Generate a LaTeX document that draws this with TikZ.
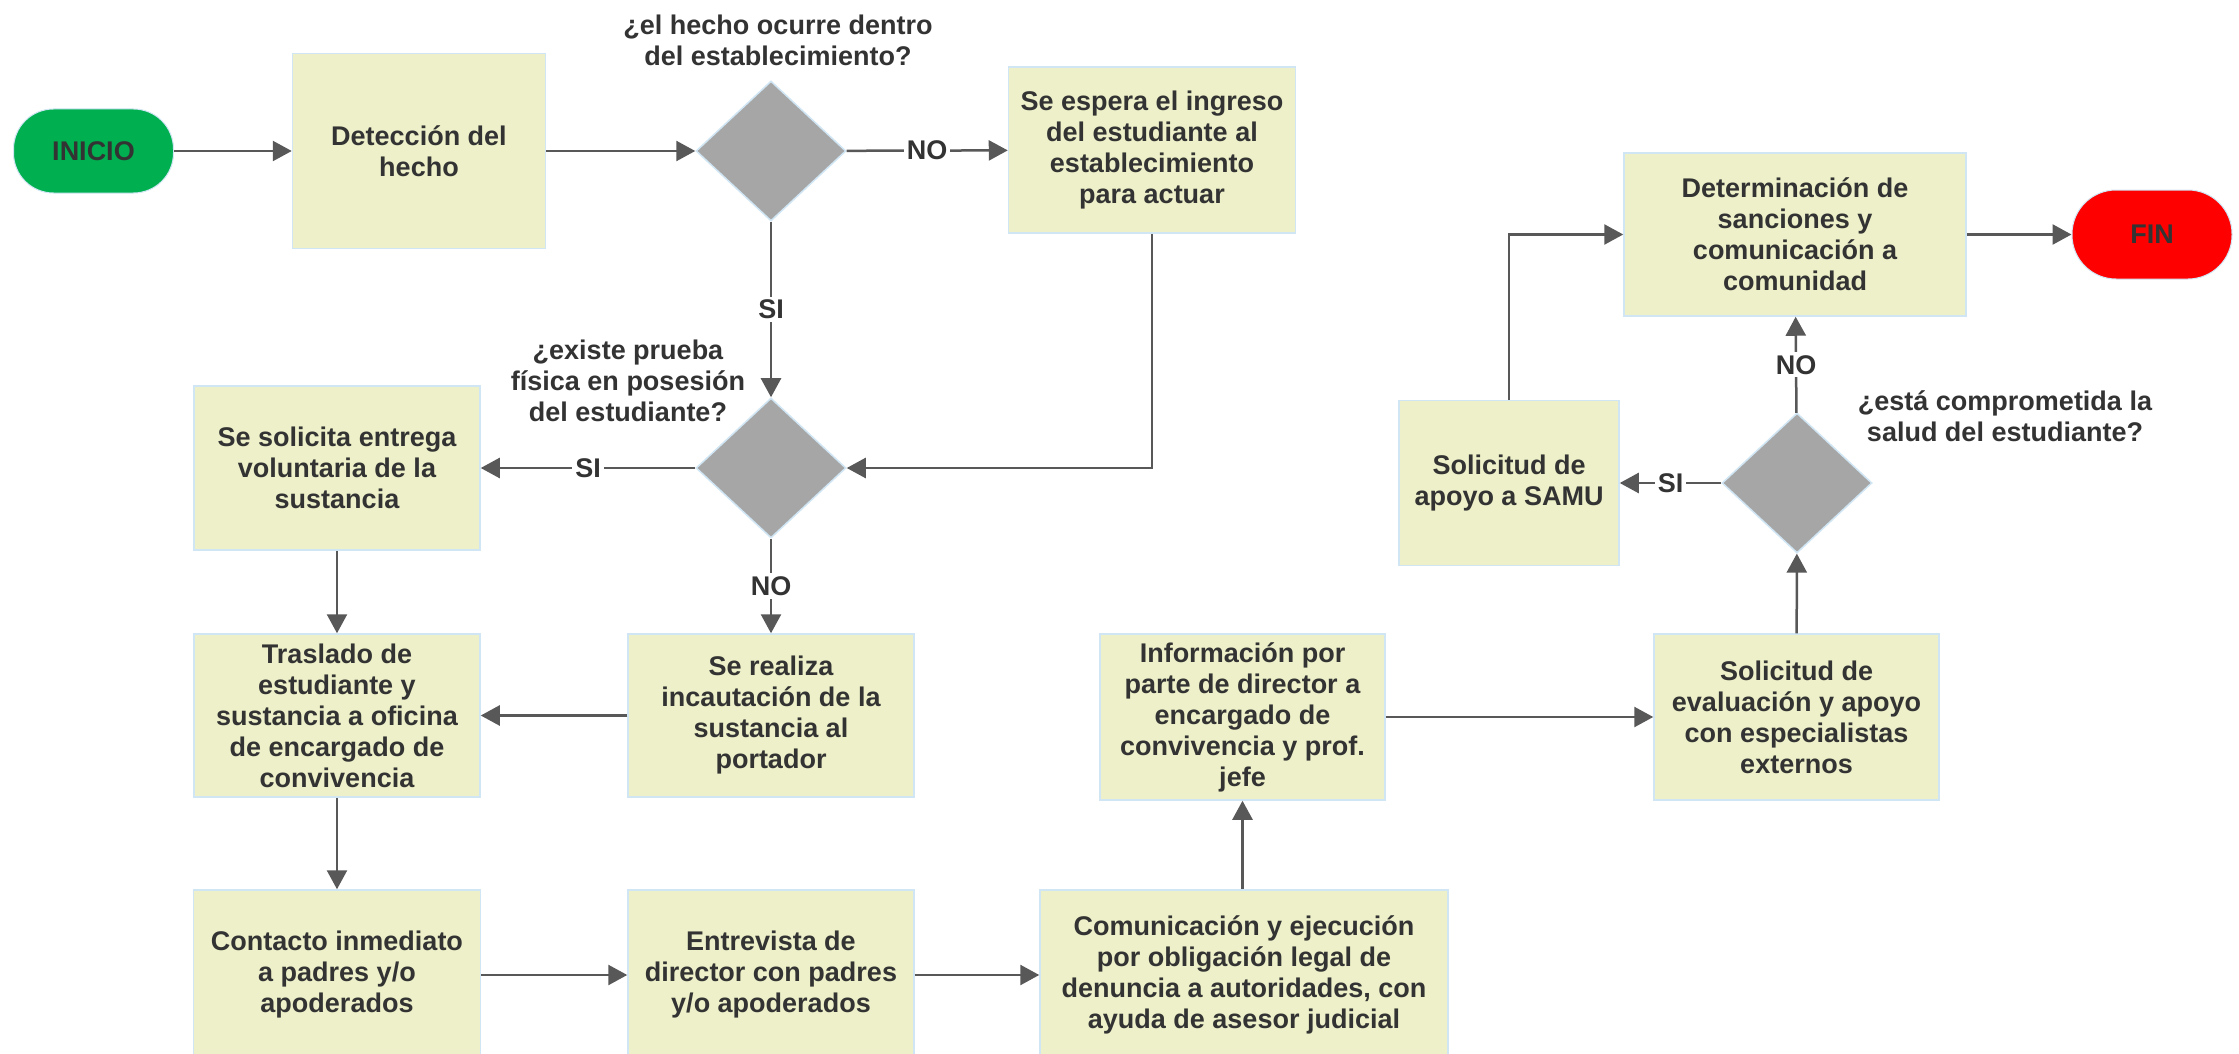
\documentclass[tikz,border=0pt]{standalone}
\usepackage{fontspec}
\setmainfont{Liberation Sans}
\usetikzlibrary{shapes.geometric,arrows.meta}
\definecolor{boxfill}{RGB}{237,240,200}
\definecolor{boxline}{RGB}{208,230,244}
\definecolor{dgray}{RGB}{166,166,166}
\definecolor{txt}{RGB}{51,51,51}
\definecolor{arr}{RGB}{88,88,88}
\definecolor{startg}{RGB}{0,176,80}
\begin{document}
\begin{tikzpicture}[x=1pt,y=-1pt,
  every node/.style={font=\fontsize{27}{31}\selectfont\bfseries, text=txt},
  procbox/.style={rectangle, draw=boxline, line width=1.5pt, fill=boxfill, align=center, inner sep=0pt},
  decbox/.style={diamond, draw=boxline, line width=1.5pt, fill=dgray, inner sep=0pt, minimum width=150pt, minimum height=140pt},
  termbox/.style={rectangle, rounded corners=40pt, draw=boxline, line width=1pt, inner sep=0pt},
  qlabel/.style={align=center, inner sep=0pt},
  elabel/.style={fill=white, inner sep=3pt},
  conn/.style={draw=arr, line width=2.5pt, -{Triangle[length=19pt,width=20pt]}}
]
\useasboundingbox (0,0) rectangle (2239,1054);
\fill[white] (0,0) rectangle (2239,1054);

% terminals
\node[termbox, fill=startg, minimum width=160pt, minimum height=84pt] (inicio) at (93.5,151) {INICIO};
\node[termbox, fill=red, minimum width=160pt, minimum height=89pt, rounded corners=44pt] (fin) at (2152,234.5) {FIN};

% process boxes
\node[procbox, minimum width=253pt, minimum height=195pt] (det) at (419,151) {Detección del\\hecho};
\node[procbox, minimum width=287pt, minimum height=166pt] (espera) at (1152,150) {Se espera el ingreso\\del estudiante al\\establecimiento\\para actuar};
\node[procbox, minimum width=286pt, minimum height=164pt] (solicita) at (337,468) {Se solicita entrega\\voluntaria de la\\sustancia};
\node[procbox, minimum width=286pt, minimum height=163pt] (realiza) at (771,715.5) {Se realiza\\incautación de la\\sustancia al\\portador};
\node[procbox, minimum width=286pt, minimum height=163pt] (traslado) at (337,715.5) {Traslado de\\estudiante y\\sustancia a oficina\\de encargado de\\convivencia};
\node[procbox, minimum width=287pt, minimum height=170pt] (contacto) at (337,975) {Contacto inmediato\\a padres y/o\\apoderados};
\node[procbox, minimum width=286pt, minimum height=170pt] (entrevista) at (771,975) {Entrevista de\\director con padres\\y/o apoderados};
\node[procbox, minimum width=408pt, minimum height=170pt] (comunic) at (1244,975) {Comunicación y ejecución\\por obligación legal de\\denuncia a autoridades, con\\ayuda de asesor judicial};
\node[procbox, minimum width=285pt, minimum height=166pt] (info) at (1242.5,717) {Información por\\parte de director a\\encargado de\\convivencia y prof.\\jefe};
\node[procbox, minimum width=285pt, minimum height=166pt] (eval) at (1796.5,717) {Solicitud de\\evaluación y apoyo\\con especialistas\\externos};
\node[procbox, minimum width=220pt, minimum height=165pt] (samu) at (1509,483) {Solicitud de\\apoyo a SAMU};
\node[procbox, minimum width=342pt, minimum height=163pt] (determ) at (1795,234.5) {Determinación de\\sanciones y\\comunicación a\\comunidad};

% decisions
\node[decbox] (d1) at (771,151) {};
\node[decbox] (d2) at (771,468) {};
\node[decbox] (d3) at (1797,483) {};

% question labels
\node[qlabel] (q1) at (778,40) {¿el hecho ocurre dentro\\del establecimiento?};
\node[qlabel] (q2) at (628,381) {¿existe prueba\\física en posesión\\del estudiante?};
\node[qlabel] (q3) at (2005,416) {¿está comprometida la\\salud del estudiante?};

% connectors
\draw[conn] (inicio) -- (det);
\draw[conn] (det) -- (d1);
\draw[conn] (d1) -- node[elabel] {NO} (espera);
\draw[conn] (d1) -- node[elabel] {SI} (d2);
\draw[conn] (espera.south) |- (d2.east);
\draw[conn] (d2) -- node[elabel] {SI} (solicita);
\draw[conn] (d2) -- node[elabel] {NO} (realiza);
\draw[conn] (solicita) -- (traslado);
\draw[conn] (realiza) -- (traslado);
\draw[conn] (traslado) -- (contacto);
\draw[conn] (contacto) -- (entrevista);
\draw[conn] (entrevista) -- (comunic);
\draw[conn] (comunic.north -| info.south) -- (info.south);
\draw[conn] (info) -- (eval);
\draw[conn] (eval) -- (d3);
\draw[conn] (d3) -- node[elabel] {SI} (samu);
\draw[conn] (d3) -- node[elabel] {NO} (determ);
\draw[conn] (samu.north) |- (determ.west);
\draw[conn] (determ) -- (fin);
\end{tikzpicture}
\end{document}
